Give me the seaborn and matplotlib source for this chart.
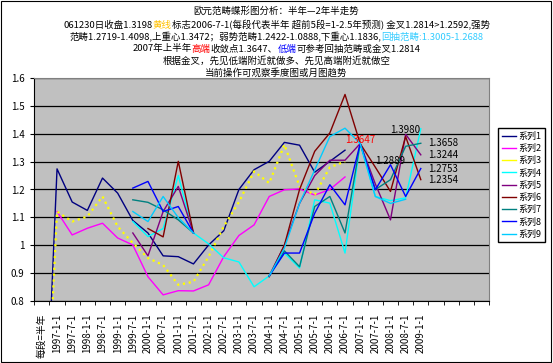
import numpy as np
import pandas as pd
import matplotlib
matplotlib.use("Agg")
import matplotlib.pyplot as plt
import seaborn as sns
from matplotlib.lines import Line2D
from matplotlib.patches import Rectangle

plt.rcParams['font.family'] = ['Noto Sans CJK SC', 'DejaVu Sans']

nan = np.nan
N_CAT = 30

# category labels (one per half-year step, last few are empty)
categories = ["每段=半年", "1997-1-1", "1997-7-1", "1998-1-1", "1998-7-1", "1999-1-1",
              "1999-7-1", "2000-1-1", "2000-7-1", "2001-1-1", "2001-7-1", "2002-1-1",
              "2002-7-1", "2003-1-1", "2003-7-1", "2004-1-1", "2004-7-1", "2005-1-1",
              "2005-7-1", "2006-1-1", "2006-7-1", "2007-1-1", "2007-7-1", "2008-1-1",
              "2008-7-1", "2009-1-1", "", "", "", ""]


def pad(v):
    return v + [nan] * (N_CAT - len(v))


s1 = pad([0, 1.274, 1.155, 1.125, 1.241, 1.187, 1.089, 1.044, 0.962, 0.959, 0.933,
          1.001, 1.052, 1.200, 1.271, 1.301, 1.369, 1.359, 1.262, 1.301, 1.341])
s2 = pad([nan, 1.121, 1.037, 1.061, 1.079, 1.026, 1.001, 0.887, 0.822, 0.837, 0.836,
          0.858, 0.959, 1.035, 1.073, 1.175, 1.199, 1.202, 1.180, 1.200, 1.245])
s3 = pad([0, 1.121, 1.085, 1.103, 1.175, 1.067, 1.008, 0.954, 0.929, 0.858, 0.869,
          0.959, 1.067, 1.155, 1.265, 1.223, 1.361, 1.211, 1.181, 1.280, 1.300])
s4 = pad([nan] * 6 + [1.085, 1.031, 1.060, 1.250, 1.044, 1.005, 0.955, 0.940, 0.851,
                      0.890, 0.972, 0.918, 1.163, 1.151, 0.972, 1.3647, 1.175, 1.160,
                      1.170, 1.418])
s5 = pad([nan] * 6 + [1.044, 0.962, 1.121, 1.211, 1.044, nan, nan, nan, nan,
                      0.890, 1.000, 1.150, 1.250, 1.305, 1.305, 1.3647, 1.220, 1.091,
                      1.398, 1.3244])
s6 = pad([nan] * 7 + [1.060, 1.030, 1.301, 1.044, nan, nan, nan, nan,
                      0.887, 1.000, 1.200, 1.337, 1.403, 1.541, 1.3647, 1.280, 1.193,
                      1.390, 1.2354])
s7 = pad([nan] * 6 + [1.163, 1.154, 1.127, 1.091, 1.044, nan, nan, nan, nan,
                      0.890, 0.980, 0.923, 1.139, 1.175, 1.044, 1.3647, 1.200, 1.235,
                      1.355, 1.3658])
s8 = pad([nan] * 6 + [1.205, 1.229, 1.121, 1.139, 1.044, nan, nan, nan, nan,
                      0.890, 0.972, 0.972, 1.115, 1.217, 1.145, 1.3647, 1.199, 1.2889,
                      1.175, 1.2753])
s9 = pad([nan] * 6 + [1.121, 1.085, 1.175, 1.099, 1.044, nan, nan, nan, nan,
                      0.890, 0.990, 1.150, 1.270, 1.390, 1.420, 1.3647, 1.175, 1.150,
                      1.165])

series_names = ["系列1", "系列2", "系列3", "系列4", "系列5", "系列6", "系列7", "系列8", "系列9"]
series_values = [s1, s2, s3, s4, s5, s6, s7, s8, s9]
series_colors = ["#000080", "#FF00FF", "#FFFF00", "#00FFFF", "#800080",
                 "#800000", "#008080", "#0000FF", "#00CCFF"]

# point labels on the chart
point_labels = ["1.3647", "1.2889", "1.3980"]
point_pos = [21, 23, 24]
point_vals = [1.3647, 1.2889, 1.3980]
point_colors = ["#FF0000", "black", "black"]
end_vals = [1.3658, 1.3244, 1.2753, 1.2354]

fig = plt.figure(figsize=(5.53, 3.63), dpi=100)
ax = fig.add_axes([34.3 / 553, 1 - 301 / 363, (489 - 34.3) / 553, (301 - 78) / 363])
ax.set_facecolor("#C0C0C0")

# draw each series, split where there are gaps
for name, vals, col in zip(series_names, series_values, series_colors):
    df = pd.DataFrame({"pos": np.arange(N_CAT), "val": vals})
    df["seg"] = df["val"].isna().cumsum()
    df = df.dropna()
    dotted = name == "系列3"
    sns.lineplot(data=df, x="pos", y="val", units="seg", estimator=None, color=col,
                 linewidth=1.6 if dotted else 1.0, linestyle=":" if dotted else "-",
                 ax=ax, legend=False)

ax.set_xlim(-0.5, N_CAT - 0.5)
ax.set_ylim(0.8, 1.6)
yt = np.round(np.arange(0.8, 1.61, 0.1), 1)
ax.set_yticks(yt)
ax.set_yticklabels(["1" if v == 1 else f"{v:.1f}" for v in yt], fontsize=7)
ax.yaxis.grid(True, color="black", linewidth=0.9)
ax.set_axisbelow(True)
ax.set_xticks(range(N_CAT))
ax.set_xticklabels(categories, rotation=90, fontsize=7)
ax.set_xticks(np.arange(-0.5, N_CAT, 1), minor=True)
ax.tick_params(axis="x", which="major", length=0, pad=9)
ax.tick_params(axis="x", which="minor", length=3, direction="out")
ax.tick_params(axis="y", length=3, direction="out", pad=4)
ax.set_xlabel("")
ax.set_ylabel("")
for s in ["top", "right"]:
    ax.spines[s].set_color("#808080")

for txt, p, v, c in zip(point_labels, point_pos, point_vals, point_colors):
    ax.annotate(txt, (p, v), xytext=(0, 4), textcoords="offset pixels",
                ha="center", va="center", fontsize=7, color=c)
for v in end_vals:
    ax.annotate(f"{v:.4f}", (25.5, v), ha="left", va="center", fontsize=7, color="black")

# legend
handles = [Line2D([0], [0], color=c, lw=1.0) for c in series_colors]
fig.legend(handles, series_names, loc="upper left",
           bbox_to_anchor=(498 / 553, 1 - 128 / 363), fontsize=6.5, frameon=True,
           fancybox=False, edgecolor="black", framealpha=1, handlelength=1.6,
           labelspacing=0.35, borderpad=0.4, handletextpad=0.3, borderaxespad=0)

# title block with coloured words
title_lines = [
    [("欧元范畴蝶形图分析：半年—2年半走势", "black")],
    [("061230日收盘1.3198", "black"), ("黄线", "#FFC000"),
     ("标志2006-7-1(每段代表半年 超前5段=1-2.5年预测) 金叉1.2814>1.2592,强势", "black")],
    [("范畴1.2719-1.4098,上重心1.3472；弱势范畴1.2422-1.0888,下重心1.1836,", "black"),
     ("回抽范畴:1.3005-1.2688", "#33CCFF")],
    [("2007年上半年", "black"), ("高端", "#FF0000"), ("收敛点1.3647、", "black"),
     ("低端", "#0000FF"), ("可参考回抽范畴或金叉1.2814", "black")],
    [("根据金叉，先见低端附近就做多、先见高端附近就做空", "black")],
    [("当前操作可观察季度图或月图趋势", "black")],
]
title_y = [11, 25.5, 37, 49, 61, 72.5]

renderer = fig.canvas.get_renderer()
for parts, ypx in zip(title_lines, title_y):
    items = [fig.text(0, 1 - ypx / 363, s, color=c, fontsize=6.8, va="center", ha="left")
             for s, c in parts]
    widths = [t.get_window_extent(renderer=renderer).width for t in items]
    x = (fig.bbox.width - sum(widths)) / 2
    for t, w in zip(items, widths):
        t.set_x(x / fig.bbox.width)
        x += w

fig.patches.append(Rectangle((0.002, 0.003), 0.995, 0.994, transform=fig.transFigure,
                             fill=False, edgecolor="black", linewidth=0.8))

fig.savefig("out.png", dpi=100)
